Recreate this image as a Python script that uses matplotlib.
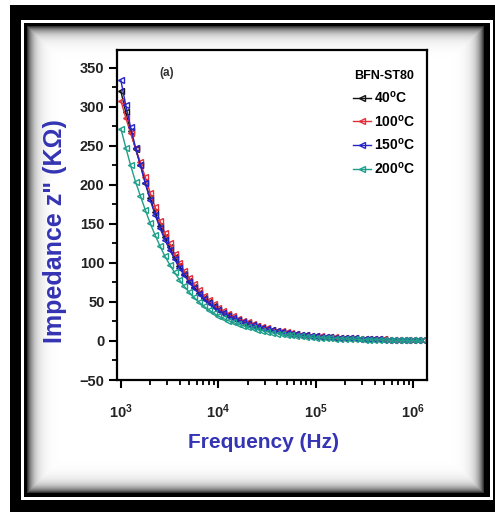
import numpy as np
import matplotlib
matplotlib.use('Agg')
import matplotlib.pyplot as plt
from matplotlib.ticker import MultipleLocator, FixedLocator, NullFormatter

plt.rcParams['font.family'] = ['Liberation Sans', 'DejaVu Sans']
plt.rcParams['mathtext.fontset'] = 'custom'
plt.rcParams['mathtext.rm'] = 'Liberation Sans'
plt.rcParams['mathtext.bf'] = 'Liberation Sans:bold'

# frequency (Hz), 20 points per decade
freq = [1000, 1122, 1259, 1413, 1585, 1778, 1995, 2239, 2512, 2818,
        3162, 3548, 3981, 4467, 5012, 5623, 6310, 7079, 7943, 8913,
        10000, 11220, 12589, 14125, 15849, 17783, 19953, 22387, 25119, 28184,
        31623, 35481, 39811, 44668, 50119, 56234, 63096, 70795, 79433, 89125,
        100000, 112202, 125893, 141254, 158489, 177828, 199526, 223872, 251189, 281838,
        316228, 354813, 398107, 446684, 501187, 562341, 630957, 707946, 794328, 891251,
        1000000, 1122018, 1258925]

# imaginary impedance Z'' (kOhm)
z_40 = [320, 293, 269, 246, 226, 203, 183, 165, 148, 133,
        120, 107.5, 96.3, 86.3, 77.3, 69.3, 62.1, 55.6, 49.8, 44.6,
        40.0, 36.4, 33.1, 30.1, 27.4, 24.9, 22.6, 20.6, 18.7, 17.0,
        15.5, 14.1, 12.8, 11.7, 10.6, 9.6, 8.8, 8.0, 7.2, 6.6,
        6.0, 5.6, 5.2, 4.8, 4.4, 4.1, 3.8, 3.5, 3.3, 3.0,
        2.8, 2.6, 2.4, 2.2, 2.0, 1.9, 1.7, 1.6, 1.5, 1.4,
        1.3, 1.2, 1.1]
z_100 = [308, 286, 266, 247, 229, 210, 190, 172, 154, 139,
         125, 112, 100.5, 90, 81, 72.5, 65, 58.3, 52.2, 46.8,
         42, 38.2, 34.8, 31.6, 28.8, 26.2, 23.8, 21.6, 19.6, 17.8,
         16.2, 14.7, 13.4, 12.2, 11.1, 10.1, 9.2, 8.3, 7.6, 6.9,
         6.2, 5.8, 5.4, 5.0, 4.6, 4.2, 3.9, 3.6, 3.4, 3.1,
         2.9, 2.7, 2.5, 2.3, 2.1, 1.9, 1.8, 1.7, 1.5, 1.4,
         1.3, 1.2, 1.1]
z_150 = [334, 302, 274, 248, 225, 202, 181, 162, 145, 130,
         117, 105, 94, 84.5, 75.7, 67.8, 60.8, 54.4, 48.8, 43.7,
         39.2, 35.6, 32.4, 29.5, 26.8, 24.4, 22.1, 20.2, 18.3, 16.6,
         15.2, 13.8, 12.5, 11.4, 10.4, 9.4, 8.6, 7.8, 7.1, 6.5,
         5.9, 5.5, 5.1, 4.7, 4.3, 4.0, 3.7, 3.4, 3.2, 2.9,
         2.7, 2.5, 2.3, 2.1, 1.9, 1.8, 1.6, 1.5, 1.4, 1.3,
         1.2, 1.1, 1.0]
z_200 = [272, 248, 225, 204, 186, 168, 151, 136, 122, 109,
         98, 88, 78.5, 70, 62.5, 56, 50, 44.7, 40, 35.8,
         32, 28.9, 26.2, 23.8, 21.6, 19.6, 17.8, 16.1, 14.6, 13.2,
         12.0, 10.5, 9.5, 8.6, 7.8, 7.1, 6.4, 5.8, 5.3, 4.8,
         4.4, 4.0, 3.7, 3.4, 3.1, 2.8, 2.6, 2.4, 2.2, 2.0,
         1.8, 1.7, 1.5, 1.4, 1.3, 1.2, 1.1, 1.0, 0.9, 0.8,
         0.8, 0.7, 0.7]

series = [z_40, z_100, z_150, z_200]
labels = ['40$^{\\mathbf{o}}$C', '100$^{\\mathbf{o}}$C',
          '150$^{\\mathbf{o}}$C', '200$^{\\mathbf{o}}$C']
colors = ['#111111', '#e0303a', '#2424c8', '#1f9e8a']
blue_txt = '#3434b4'

W, H = 495, 512
fig = plt.figure(figsize=(W / 100, H / 100), dpi=100)
fig.patch.set_facecolor('black')

# picture frame: black border, thin white line, shaded white panel
yy, xx = np.mgrid[0:H, 0:W]
bg = np.zeros((H, W))
bg[:, :10] = 1
bg[:5, :] = 1
outer = (xx >= 21) & (xx < 493) & (yy >= 20) & (yy < 500)
inner = (xx >= 24) & (xx < 490) & (yy >= 23) & (yy < 497)
bg[outer & ~inner] = 1
x0, x1, y0, y1 = 27, 484, 26, 493
panel = (xx >= x0) & (xx < x1) & (yy >= y0) & (yy < y1)
d = np.minimum.reduce([xx - x0, x1 - 1 - xx, yy - y0, y1 - 1 - yy]).astype(float)
shade = 1 - 0.8 * np.exp(-d / 6.0)
bg[panel] = shade[panel]
bgax = fig.add_axes([0, 0, 1, 1], zorder=0)
bgax.imshow(bg, cmap='gray', vmin=0, vmax=1, aspect='auto', interpolation='nearest')
bgax.axis('off')

ax = fig.add_axes([117 / W, 1 - 380 / H, 310 / W, 330 / H], zorder=1)
ax.set_facecolor('white')

for z, lab, c in zip(series, labels, colors):
    ax.plot(freq, z, '-', color=c, lw=1.0, marker='<', ms=5, mfc='none',
            mec=c, mew=1.0, label=lab)

ax.set_xscale('log')
ax.set_xlim(10 ** 2.96, 10 ** 6.14)
ax.set_ylim(-50, 373)

ax.yaxis.set_major_locator(MultipleLocator(50))
ax.yaxis.set_minor_locator(MultipleLocator(25))
ax.xaxis.set_major_locator(FixedLocator([1e3, 1e4, 1e5, 1e6]))
minors = [m * 10 ** e for e in range(3, 7) for m in range(2, 10)]
ax.xaxis.set_minor_locator(FixedLocator(minors))
ax.xaxis.set_minor_formatter(NullFormatter())
ax.set_xticklabels(['$\\mathbf{10^{3}}$', '$\\mathbf{10^{4}}$',
                    '$\\mathbf{10^{5}}$', '$\\mathbf{10^{6}}$'])

for s in ax.spines.values():
    s.set_linewidth(1.6)
ax.tick_params(which='major', direction='out', length=6, width=1.5,
               labelsize=10.5, labelcolor='#222222', pad=3)
ax.tick_params(axis='x', which='major', pad=10)
ax.tick_params(which='minor', direction='out', length=3.5, width=1.3)
for t in ax.get_yticklabels():
    t.set_fontweight('bold')

ax.text(0.16, 0.93, '(a)', transform=ax.transAxes, fontsize=8.5,
        fontweight='bold', color='#333333', ha='center', va='center')

leg = ax.legend(loc='upper right', bbox_to_anchor=(0.99, 0.965), frameon=False,
                title='BFN-ST80', prop={'weight': 'bold', 'size': 10},
                handlelength=1.3, handletextpad=0.2, labelspacing=0.55,
                borderaxespad=0.2)
leg.get_title().set_fontweight('bold')
leg.get_title().set_fontsize(9)

fig.text(55 / W, 1 - 231 / H, "Impedance z\" (K\u03a9)", rotation=90,
         fontsize=18, fontweight='bold', color=blue_txt, ha='center', va='center')
fig.text(263 / W, 1 - 442 / H, 'Frequency (Hz)', fontsize=15,
         fontweight='bold', color=blue_txt, ha='center', va='center')

fig.savefig('out.png', dpi=100, facecolor=fig.get_facecolor())
